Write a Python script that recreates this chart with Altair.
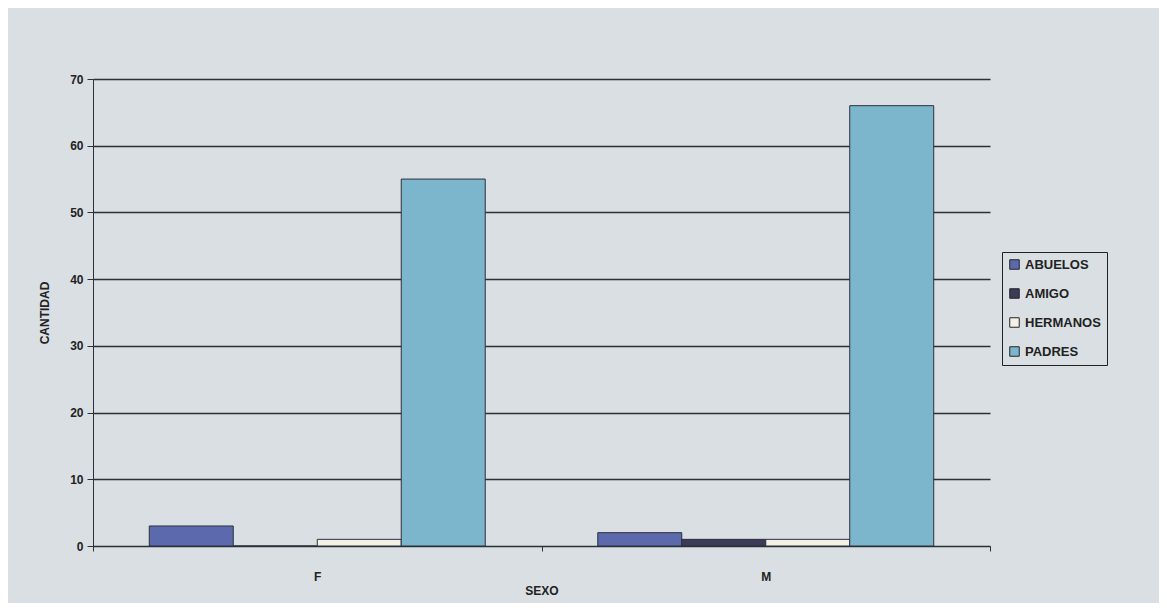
import altair as alt
import pandas as pd

categories = ["F", "M"]
series = ["ABUELOS", "AMIGO", "HERMANOS", "PADRES"]
abuelos = [3, 2]
amigo = [0, 1]
hermanos = [1, 1]
padres = [55, 66]
colors = ["#5d69ad", "#3d3c58", "#f3f1e4", "#7cb6cc"]

values = {"ABUELOS": abuelos, "AMIGO": amigo, "HERMANOS": hermanos, "PADRES": padres}
rows = []
for s in series:
    for c, v in zip(categories, values[s]):
        rows.append({"SEXO": c, "serie": s, "CANTIDAD": v})
df = pd.DataFrame(rows)

BG = "#d9dfe2"
DARK = "#2b303b"
FONT = "Liberation Sans"

chart = alt.Chart(df).mark_bar(stroke=DARK, strokeWidth=1).encode(
    x=alt.X("SEXO:N", sort=categories,
            scale=alt.Scale(paddingInner=0, paddingOuter=0),
            axis=alt.Axis(labelAngle=0, tickBand="extent", labelPadding=20,
                          titlePadding=3, domainColor=DARK, tickColor=DARK,
                          labelFont=FONT, labelFontWeight="bold", labelFontSize=12,
                          labelColor="#222", titleFont=FONT, titleFontWeight="bold",
                          titleFontSize=12, titleColor="#222")),
    xOffset=alt.XOffset("serie:N", sort=series,
                        scale=alt.Scale(paddingInner=0, paddingOuter=0.67)),
    y=alt.Y("CANTIDAD:Q", scale=alt.Scale(domain=[0, 70]),
            axis=alt.Axis(values=list(range(0, 71, 10)), grid=True, gridColor=DARK,
                          gridWidth=1.3, domainColor=DARK, tickColor=DARK, tickSize=6,
                          labelPadding=4, titlePadding=18,
                          labelFont=FONT, labelFontWeight="bold", labelFontSize=12,
                          labelColor="#222", titleFont=FONT, titleFontWeight="bold",
                          titleFontSize=12, titleColor="#222")),
    color=alt.Color("serie:N", sort=series,
                    scale=alt.Scale(domain=series, range=colors),
                    legend=alt.Legend(title=None, orient="none", legendX=909, legendY=173,
                                      symbolType="square", symbolSize=90,
                                      symbolStrokeColor="#222", symbolStrokeWidth=1,
                                      labelFont=FONT, labelFontWeight="bold",
                                      labelFontSize=13, labelColor="#222",
                                      labelOffset=4,
                                      rowPadding=14, padding=6, strokeColor="#222",
                                      fillColor=BG)),
).properties(
    width=897, height=467,
    background=BG,
    autosize=alt.AutoSizeParams(type="none"),
    padding={"left": 85, "top": 71, "right": 169, "bottom": 57},
).configure_view(stroke=None)

chart.save("out.html", embed_options={"renderer": "svg", "actions": False})
